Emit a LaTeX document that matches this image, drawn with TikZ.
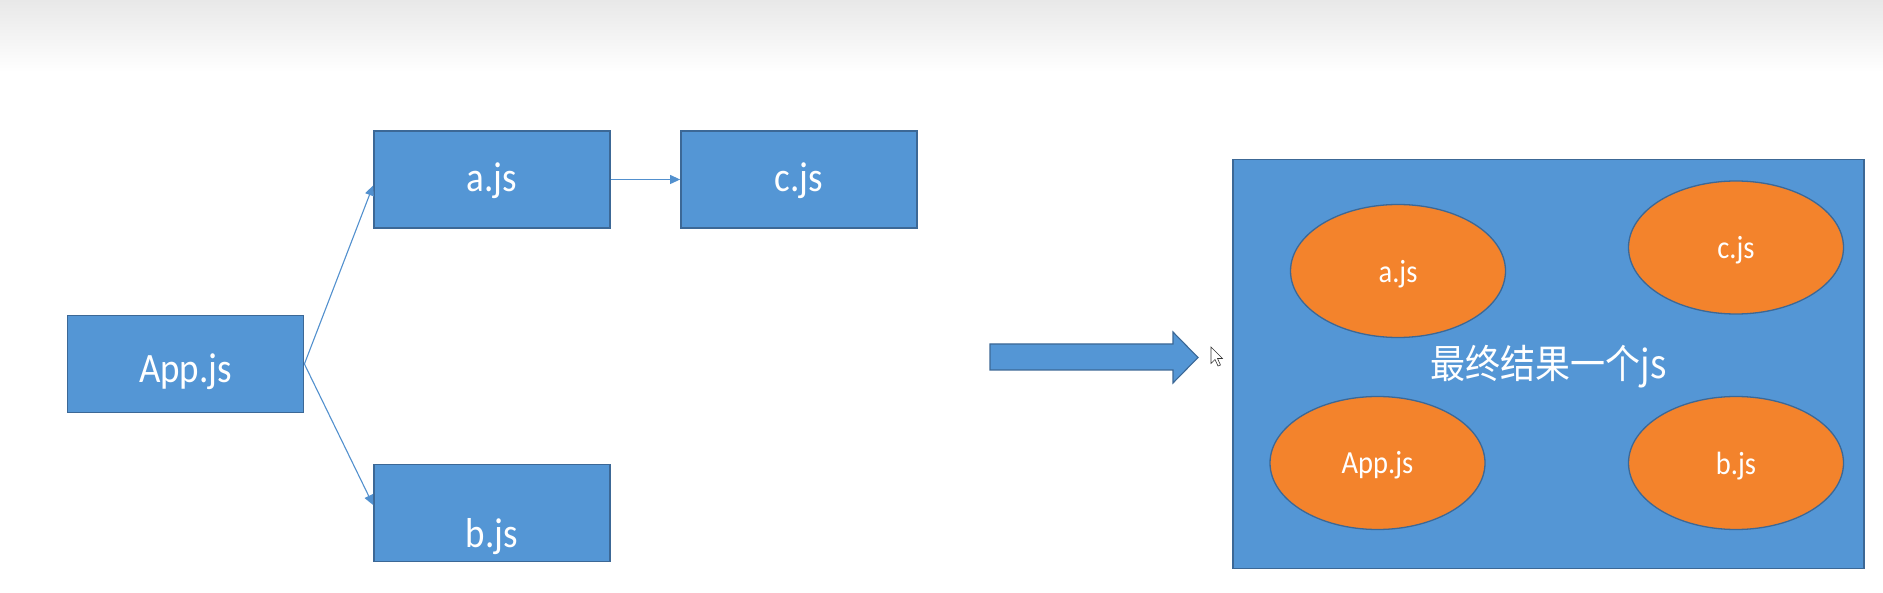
\documentclass[tikz,border=0pt]{standalone}
\usepackage{fontspec}
\usepackage{graphicx}
\setmainfont{Carlito}
\newfontfamily\cjkfont{Noto Sans CJK SC}
\usetikzlibrary{shapes.geometric,arrows.meta}
\definecolor{boxblue}{RGB}{84,150,213}
\definecolor{edgeblue}{RGB}{60,104,150}
\definecolor{lineblue}{RGB}{82,144,206}
\definecolor{orangefill}{RGB}{243,131,44}
\definecolor{topgray}{RGB}{232,232,232}
\newcommand{\mylbl}[2]{\raisebox{-#1pt}[0pt][0pt]{\scalebox{1}[1.13]{#2}}}
\tikzset{
  jsbox/.style={draw=edgeblue, line width=1.8pt, fill=boxblue, rectangle,
    minimum width=236pt, minimum height=97pt, inner sep=0pt, text=white,
    font=\fontsize{37}{40}\selectfont},
  jsell/.style={draw=edgeblue, line width=1.3pt, fill=orangefill, ellipse,
    minimum width=215pt, minimum height=133pt, inner sep=0pt, text=white,
    font=\fontsize{28.5}{32}\selectfont},
  bigbox/.style={draw=edgeblue, line width=1.8pt, fill=boxblue, rectangle,
    minimum width=631pt, minimum height=409pt, inner sep=0pt, text=white,
    font=\cjkfont\fontsize{35}{40}\selectfont},
  conn/.style={draw=lineblue, line width=1.1pt, -{Triangle[length=10pt,width=9pt]}},
  blockarrow/.style={draw=edgeblue, line width=1.1pt, fill=boxblue},
  cursorshape/.style={draw=black!80, line width=0.6pt, fill=white}
}
\begin{document}
\begin{tikzpicture}[x=1pt,y=-1pt]
\useasboundingbox (0,0) rectangle (1883,593);
\fill[white] (0,0) rectangle (1883,593);
\shade[top color=topgray, bottom color=white] (0,0) rectangle (1883,72);

% left graph
\node[jsbox] (app) at (185.5,364) {\mylbl{18.5}{App.js}};
\node[jsbox] (a) at (492,179.5) {\mylbl{12.5}{a.js}};
\node[jsbox] (c) at (799,179.5) {\mylbl{12.5}{c.js}};
\node[jsbox] (b) at (492,513) {\mylbl{34.5}{b.js}};

\draw[conn] (app.east) -- ([yshift=-6pt]a.west);
\draw[conn] (app.east) -- ([yshift=8pt]b.west);
\draw[conn] (a.east) -- (c.west);

% block arrow
\draw[blockarrow] (990,344) -- (1173,344) -- (1173,332) -- (1198,357.5)
  -- (1173,383) -- (1173,370) -- (990,370) -- cycle;

% mouse cursor
\draw[cursorshape] (1211,347) -- (1211,363.5) -- (1215,359.5) -- (1218,366)
  -- (1220.5,365) -- (1217.5,358.5) -- (1222.5,358.5) -- cycle;

% result box
\node[bigbox] (res) at (1548.5,364) {\mylbl{15}{最终结果一个js}};
\node[jsell] (ea) at (1398,271) {\mylbl{12}{a.js}};
\node[jsell] (ec) at (1736,247.5) {\mylbl{11}{c.js}};
\node[jsell] (eapp) at (1377.5,463) {\mylbl{11}{App.js}};
\node[jsell] (eb) at (1736,463) {\mylbl{12}{b.js}};
\end{tikzpicture}
\end{document}
